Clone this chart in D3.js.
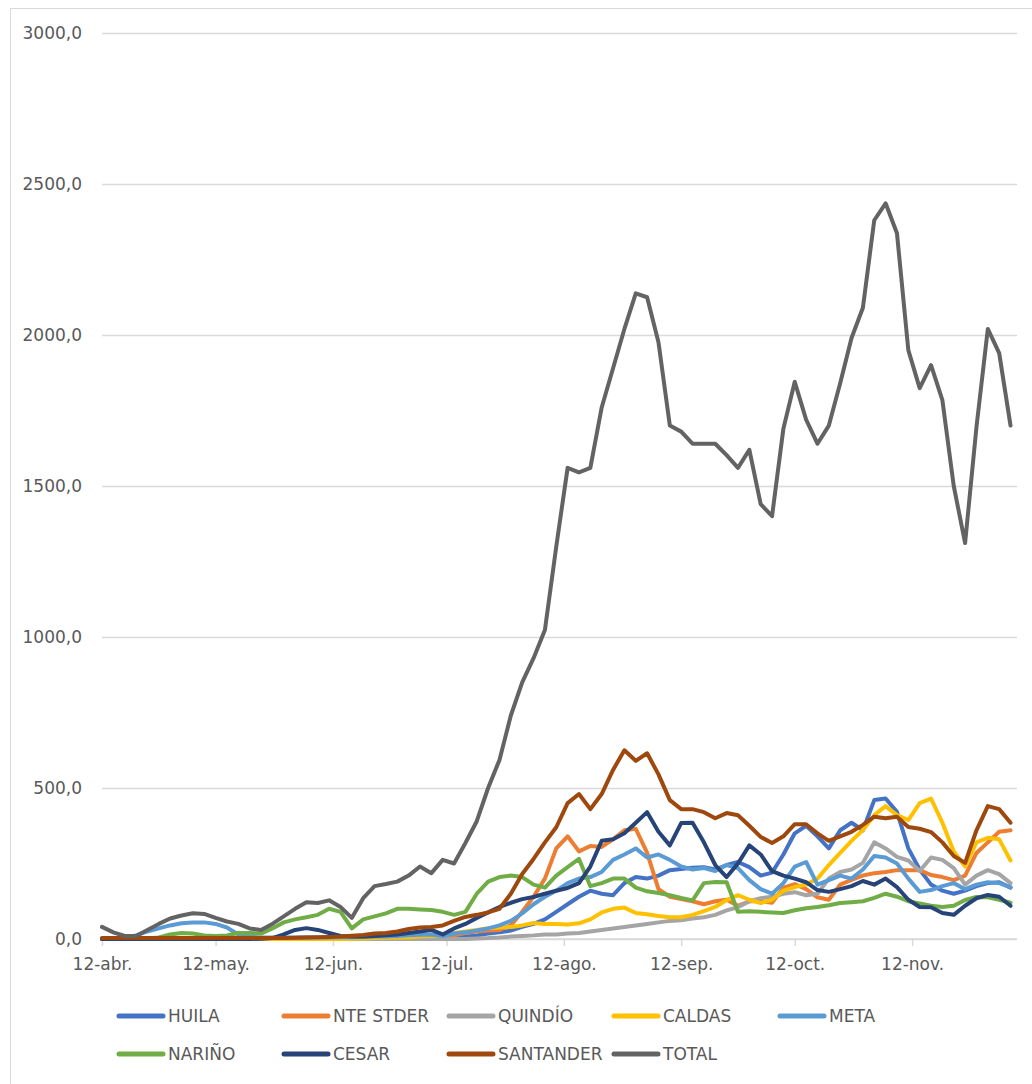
<!DOCTYPE html>
<html>
<head>
<meta charset="utf-8">
<script src="https://cdn.jsdelivr.net/npm/d3@7"></script>
<style>
  html, body { margin: 0; padding: 0; background: #ffffff; }
  svg { display: block; }
  text { font-family: "DejaVu Sans", sans-serif; fill: #595959; }
</style>
</head>
<body>
<svg id="chart" width="1032" height="1084"></svg>
<script>
// Daily series sampled every 3 days, starting 12 April 2020
const START = Date.UTC(2020, 3, 12);
const STEP_DAYS = 3;

const seriesNames = ["HUILA", "NTE STDER", "QUINDÍO", "CALDAS", "META", "NARIÑO", "CESAR", "SANTANDER", "TOTAL"];
const seriesColors = ["#4472C4", "#ED7D31", "#A5A5A5", "#FFC000", "#5B9BD5", "#70AD47", "#264478", "#9E480E", "#636363"];

const huila = [0,0,0,0,0,0,1,1,1,1,1,1,1,1,1,1,2,2,2,2,2,2,2,2,3,3,3,3,4,4,4,
  5,8,12,18,22,28,40,50,65,90,115,140,160,150,145,185,205,200,210,228,232,236,238,230,245,
  255,238,210,220,280,350,375,340,300,360,385,360,460,465,421,300,230,180,160,150,160,175,185,188,170];

const nteStder = [0,0,0,0,0,0,0,0,0,0,0,0,0,0,0,0,1,1,1,1,1,1,1,1,2,2,2,2,
  3,5,8,12,20,25,28,30,45,90,140,200,300,340,290,308,305,330,360,365,285,165,140,132,125,
  115,125,130,110,125,125,120,170,182,165,138,130,180,196,210,218,222,228,228,228,212,205,195,210,285,320,355,360];

const quindio = [0,0,0,0,0,0,0,0,0,0,0,0,0,0,0,0,0,0,0,0,0,0,0,0,0,0,0,0,0,0,0,0,0,
  2,3,5,8,10,12,15,15,18,20,25,30,35,40,45,50,55,60,62,68,72,80,95,105,125,135,140,150,155,145,
  150,200,222,230,252,320,300,272,260,225,270,262,235,180,210,228,215,185];

const caldas = [0,0,0,0,0,0,0,0,0,0,0,0,0,0,0,0,0,0,0,0,0,0,
  1,2,3,4,5,6,8,10,12,20,25,30,36,38,40,45,53,50,50,48,52,65,88,100,104,86,82,76,72,72,
  80,92,106,129,145,130,119,130,160,172,180,200,245,285,325,361,410,440,410,394,450,465,385,290,240,320,335,330,260];

const meta = [0,2,5,12,25,35,45,52,55,55,50,38,15,8,5,5,5,5,6,5,5,6,6,7,8,8,10,12,14,15,
  10,18,22,28,35,45,60,85,115,140,160,185,200,205,222,262,280,300,270,280,262,240,230,235,225,
  245,235,195,165,150,185,240,255,180,195,210,200,230,275,270,250,200,156,162,175,185,165,180,188,185,172];

const narino = [0,0,0,0,2,5,15,20,18,12,10,12,20,20,18,35,55,65,72,80,100,90,35,65,75,85,100,100,98,96,
  90,80,90,150,190,205,210,205,180,170,210,238,265,175,185,200,200,170,158,152,145,136,128,185,189,
  188,90,92,90,88,86,95,102,106,112,119,122,125,136,150,140,125,118,110,106,110,129,139,138,130,120];

const cesar = [0,0,0,0,0,0,0,0,0,0,0,0,0,0,1,
  3,15,30,36,30,20,10,8,8,10,12,15,20,25,30,15,35,50,70,88,106,120,132,139,150,160,169,185,240,325,
  330,350,385,420,355,310,384,385,320,245,205,250,310,280,225,210,200,188,162,156,165,175,192,180,200,
  172,130,106,105,86,80,110,135,146,140,110];

const santander = [3,3,3,3,3,3,3,3,3,3,3,3,3,3,3,3,3,
  4,5,6,7,8,11,13,18,20,25,33,38,40,45,60,73,80,88,100,150,215,265,320,370,450,480,430,480,560,625,
  590,615,545,460,430,430,420,400,417,410,375,338,318,340,380,380,350,325,340,355,378,405,400,405,371,
  365,354,320,275,252,360,440,430,385];

const total = [40,22,10,10,30,50,68,78,85,83,70,58,50,35,30,50,75,100,122,119,128,106,70,135,175,
  182,190,210,240,218,262,250,318,390,500,593,740,850,930,1023,1300,1560,1545,1560,1760,1890,2020,2138,2125,1976,
  1700,1680,1640,1640,1640,1602,1560,1620,1440,1400,1690,1845,1720,1640,1700,1840,1990,2090,2380,2436,
  2337,1950,1824,1900,1784,1500,1311,1695,2020,1940,1700];

const seriesValues = [huila, nteStder, quindio, caldas, meta, narino, cesar, santander, total];

const yTicks = [0, 500, 1000, 1500, 2000, 2500, 3000];
const xTickLabels = ["12-abr.", "12-may.", "12-jun.", "12-jul.", "12-ago.", "12-sep.", "12-oct.", "12-nov."];

// Plot geometry
const plot = { left: 102, right: 1017, top: 33, bottom: 939 };

const svg = d3.select("#chart");
svg.append("rect").attr("width", 1032).attr("height", 1084).attr("fill", "#ffffff");
svg.append("rect")
  .attr("x", 10.5).attr("y", 8.5).attr("width", 1040).attr("height", 1090)
  .attr("fill", "none").attr("stroke", "#d9d9d9").attr("stroke-width", 1);

const startDate = new Date(START);
const endDate = d3.utcHour.offset(startDate, Math.round(241.7 * 24));
const dates = d3.range(total.length).map(i => d3.utcDay.offset(startDate, i * STEP_DAYS));

const x = d3.scaleUtc().domain([startDate, endDate]).range([plot.left, plot.right]);
const y = d3.scaleLinear().domain([0, 3000]).range([plot.bottom, plot.top]);

// Horizontal gridlines and value labels
const yAxis = d3.axisLeft(y)
  .tickValues(yTicks)
  .tickSize(-(plot.right - plot.left))
  .tickPadding(20)
  .tickFormat(d => d.toFixed(1).replace(".", ","));
const gy = svg.append("g").attr("transform", `translate(${plot.left},0)`).call(yAxis);
gy.select(".domain").remove();
gy.selectAll(".tick line").attr("stroke", "#d9d9d9").attr("stroke-width", 1.5);
gy.selectAll(".tick text")
  .attr("font-size", 17).attr("fill", "#595959")
  .style("font-family", "'DejaVu Sans', sans-serif");

// Date axis with monthly ticks on the 12th
const tickDates = xTickLabels.map((_, i) => d3.utcMonth.offset(startDate, i));
const xAxis = d3.axisBottom(x)
  .tickValues(tickDates)
  .tickSize(7)
  .tickPadding(12)
  .tickFormat((d, i) => xTickLabels[i]);
const gx = svg.append("g").attr("transform", `translate(0,${plot.bottom})`).call(xAxis);
gx.select(".domain")
  .attr("d", `M${plot.left},0H${plot.right}`)
  .attr("stroke", "#d9d9d9").attr("stroke-width", 1.5);
gx.selectAll(".tick line").attr("stroke", "#d9d9d9").attr("stroke-width", 1.5);
gx.selectAll(".tick text")
  .attr("font-size", 17).attr("fill", "#595959")
  .style("font-family", "'DejaVu Sans', sans-serif");

// Series lines
const line = d3.line()
  .x((d, i) => x(dates[i]))
  .y(d => y(d));

const gLines = svg.append("g");
seriesValues.forEach((vals, k) => {
  gLines.append("path")
    .datum(vals)
    .attr("d", line)
    .attr("fill", "none")
    .attr("stroke", seriesColors[k])
    .attr("stroke-width", 4)
    .attr("stroke-linejoin", "round")
    .attr("stroke-linecap", "round");
});

// Legend, two rows
const legendCols = [117, 282, 447, 612, 778];
const legendRows = [1016, 1054];
const gLegend = svg.append("g");
seriesNames.forEach((name, k) => {
  const lx = legendCols[k % 5];
  const ly = legendRows[Math.floor(k / 5)];
  gLegend.append("line")
    .attr("x1", lx + 2).attr("x2", lx + 46)
    .attr("y1", ly).attr("y2", ly)
    .attr("stroke", seriesColors[k])
    .attr("stroke-width", 5)
    .attr("stroke-linecap", "round");
  gLegend.append("text")
    .attr("x", lx + 51).attr("y", ly + 6)
    .attr("font-size", 17)
    .text(name);
});
</script>
</body>
</html>
